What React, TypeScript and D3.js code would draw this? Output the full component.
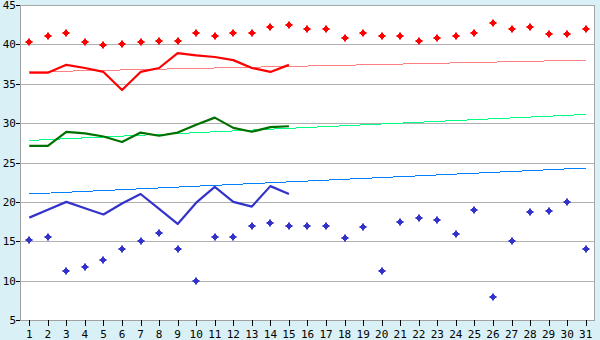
import React from "react";
import * as d3 from "d3";

const days = d3.range(1, 32);
const yTicks = [5, 10, 15, 20, 25, 30, 35, 40, 45];

const redPoints = [40.3, 41.1, 41.4, 40.3, 39.9, 40.0, 40.3, 40.4, 40.4, 41.5, 41.1, 41.4, 41.4, 42.2, 42.5,
  42.0, 41.9, 40.8, 41.5, 41.1, 41.1, 40.4, 40.8, 41.1, 41.4, 42.7, 42.0, 42.2, 41.3, 41.3, 42.0];
const redLine = [36.4, 36.4, 37.4, 37.0, 36.5, 34.2, 36.5, 37.0, 38.9, 38.6, 38.4, 38.0, 37.0, 36.5, 37.4];
const redTrend = [36.5, 38.0];

const greenLine = [27.1, 27.1, 28.9, 28.7, 28.3, 27.6, 28.8, 28.4, 28.8, 29.8, 30.7, 29.4, 28.9, 29.5, 29.6];
const greenTrend = [27.8, 31.1];

const blueLine = [18.0, 19.0, 20.0, 19.2, 18.4, 19.8, 21.0, 19.1, 17.2, 19.9, 21.9, 20.0, 19.4, 22.0, 21.0];
const blueTrend = [21.0, 24.3];
const bluePoints = [15.2, 15.6, 11.2, 11.7, 12.6, 14.0, 15.0, 16.0, 14.0, 10.0, 15.6, 15.6, 17.0, 17.3, 17.0,
  17.0, 17.0, 15.4, 16.8, 11.2, 17.4, 18.0, 17.7, 15.9, 19.0, 7.9, 15.0, 18.7, 18.9, 20.0, 14.0];

const W = 600, H = 340;
const L = 20, R = 595, T = 5, B = 320;

const xb = d3.scaleBand<number>().domain(days).range([L, R]);
const xc = (d: number) => (xb(d) as number) + xb.bandwidth() / 2;
const y = d3.scaleLinear().domain([5, 45]).range([B, T]);

const marker = "M-1,-3.5h2v1.5h1v1h1.5v2h-1.5v1h-1v1.5h-2v-1.5h-1v-1h-1.5v-2h1.5v-1h1z";

const lineGen = d3.line<number>().x((_, i) => xc(days[i])).y((v) => y(v));

export default function App() {
  const font = "'DejaVu Sans Mono', monospace";
  return (
    <svg width={W} height={H} style={{ position: "absolute", left: 0, top: 0 }}>
      <rect x={0} y={0} width={W} height={H} fill="#d9f0f6" />
      <rect x={L} y={T} width={R - L} height={B - T} fill="#ffffff" />
      {yTicks.slice(1, -1).map((t) => (
        <line key={t} x1={L} x2={R} y1={Math.round(y(t)) + 0.5} y2={Math.round(y(t)) + 0.5} stroke="#b0b0b0" />
      ))}
      <rect x={L + 0.5} y={T + 0.5} width={R - L - 1} height={B - T} fill="none" stroke="#a8a8a8" />
      <line x1={L + 0.5} x2={L + 0.5} y1={T} y2={B} stroke="#a0a0a0" />
      <line x1={L} x2={R} y1={B + 0.5} y2={B + 0.5} stroke="#a0a0a0" />
      {yTicks.map((t) => (
        <g key={t}>
          <line x1={L - 4} x2={L} y1={Math.round(y(t)) + 0.5} y2={Math.round(y(t)) + 0.5} stroke="#000" />
          <text x={L - 4} y={y(t) + 4} fontSize={11} fontFamily={font} textAnchor="end" fill="#000">{t}</text>
        </g>
      ))}
      {days.map((d) => (
        <g key={d}>
          <line x1={Math.round(xc(d)) + 0.5} x2={Math.round(xc(d)) + 0.5} y1={B} y2={B + 6} stroke="#000" />
          <text x={xc(d)} y={B + 18} fontSize={11} fontFamily={font} textAnchor="middle" fill="#000">{d}</text>
        </g>
      ))}
      {/* trend lines */}
      <g shapeRendering="crispEdges">
        <line x1={xc(1)} x2={xc(31)} y1={y(redTrend[0])} y2={y(redTrend[1])} stroke="#ff8080" strokeWidth={1} />
        <line x1={xc(1)} x2={xc(31)} y1={y(greenTrend[0])} y2={y(greenTrend[1])} stroke="#00ff80" strokeWidth={1} />
        <line x1={xc(1)} x2={xc(31)} y1={y(blueTrend[0])} y2={y(blueTrend[1])} stroke="#0080ff" strokeWidth={1} />
      </g>
      {/* lines */}
      <path d={lineGen(redLine) || ""} fill="none" stroke="#ff0000" strokeWidth={2.2} strokeLinejoin="round" />
      <path d={lineGen(greenLine) || ""} fill="none" stroke="#007000" strokeWidth={2.2} strokeLinejoin="round" />
      <path d={lineGen(blueLine) || ""} fill="none" stroke="#3333cc" strokeWidth={2.2} strokeLinejoin="round" />
      {/* points */}
      {redPoints.map((v, i) => (
        <path key={"r" + i} d={marker} transform={`translate(${Math.round(xc(days[i]))},${Math.round(y(v))})`} fill="#ff0000" />
      ))}
      {bluePoints.map((v, i) => (
        <path key={"b" + i} d={marker} transform={`translate(${Math.round(xc(days[i]))},${Math.round(y(v))})`} fill="#3333cc" />
      ))}
    </svg>
  );
}
